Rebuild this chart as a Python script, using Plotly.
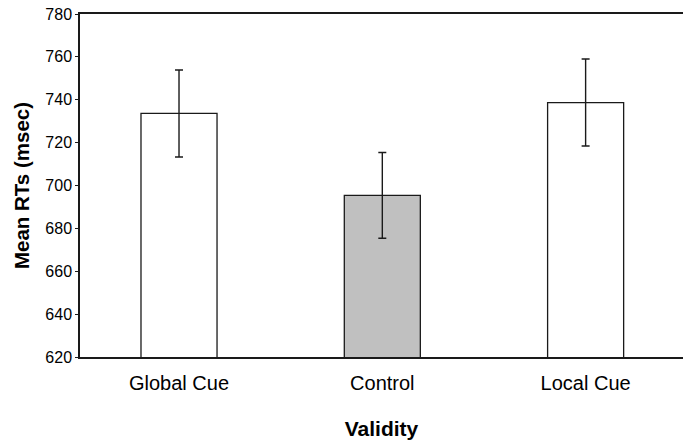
import plotly.graph_objects as go

categories = ["Global Cue", "Control", "Local Cue"]
mean_rt = [733.6, 695.4, 738.7]
err = [20.3, 20.0, 20.3]
fill_colors = ["#ffffff", "#c0c0c0", "#ffffff"]
y_ticks = [620, 640, 660, 680, 700, 720, 740, 760, 780]

FONT = "Liberation Sans, Arial, sans-serif"
INK = "#1a1a1a"

fig = go.Figure(
    go.Bar(
        x=categories,
        y=mean_rt,
        width=0.374,
        marker=dict(color=fill_colors, line=dict(color=INK, width=1.3)),
        error_y=dict(type="data", array=err, visible=True, color=INK,
                     thickness=1.4, width=4),
        hoverinfo="skip",
    )
)

fig.update_layout(
    width=683, height=441,
    margin=dict(l=80, r=0, t=14, b=84),
    paper_bgcolor="white", plot_bgcolor="white",
    showlegend=False,
    font=dict(family=FONT, color="black"),
    xaxis=dict(
        range=[-0.487, 2.479],
        automargin=False,
        showline=True, linecolor=INK, linewidth=1.5, mirror=True,
        ticks="", showgrid=False, zeroline=False,
        ticklabelstandoff=7,
        tickfont=dict(size=20, family=FONT, color="black"),
        title=dict(text="<b>Validity</b>", font=dict(size=21, family=FONT, color="black"),
                   standoff=29),
    ),
    yaxis=dict(
        range=[620, 780],
        tickvals=y_ticks,
        automargin=False,
        showline=True, linecolor=INK, linewidth=1.5,
        ticks="outside", ticklen=3, tickcolor=INK, tickwidth=1,
        showgrid=False, zeroline=False,
        tickfont=dict(size=16, family=FONT, color="black"),
        title=dict(text="<b>Mean RTs (msec)</b>", font=dict(size=20.5, family=FONT, color="black"),
                   standoff=10),
    ),
)

# remove the browser's default 8px body margin so the figure fills the window
fig.write_html(
    "out.html",
    config={"displayModeBar": False},
    post_script="document.body.style.margin='0';document.body.style.overflow='hidden';",
)
